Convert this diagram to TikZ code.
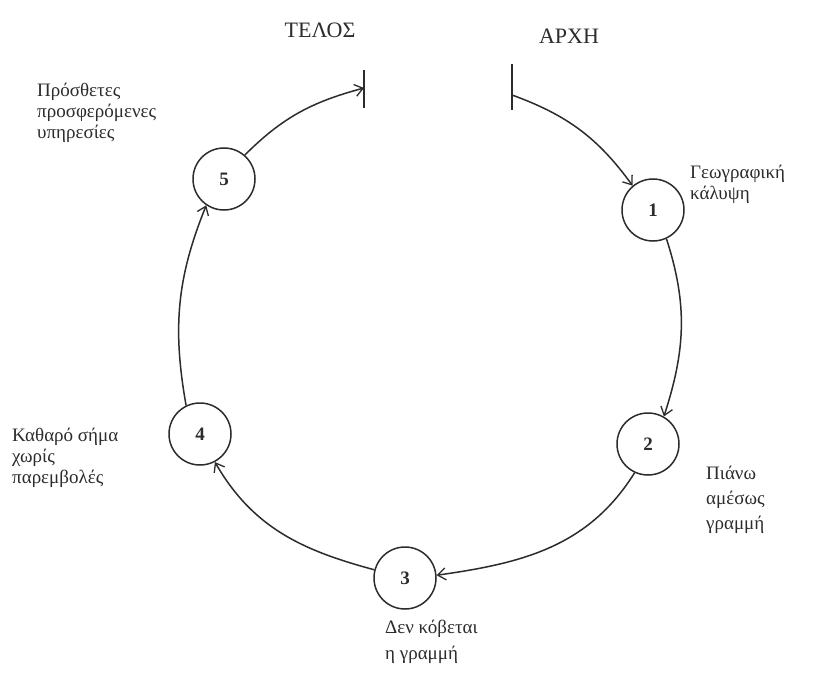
\documentclass[tikz,border=0pt]{standalone}
\usepackage{fontspec}
\setmainfont{Liberation Serif}
\usetikzlibrary{arrows.meta}
\definecolor{ink}{HTML}{2c2c2c}
\tikzset{
  stage/.style={circle, draw=ink, line width=1.5pt, minimum size=62pt, inner sep=0pt,
                font=\fontsize{19}{19}\selectfont\bfseries, text=ink},
  flow/.style={draw=ink, line width=1.5pt, -{Straight Barb[length=8pt,width=12pt,line width=1.3pt]}},
  tick/.style={draw=ink, line width=1.6pt},
  heading/.style={font=\fontsize{22}{22}\selectfont, text=ink},
  note/.style={anchor=north west, align=left, inner sep=0pt, text=ink}
}
\begin{document}
\begin{tikzpicture}[x=1pt,y=1pt]
  \useasboundingbox[fill=white] (0,0) rectangle (819,-682);

  % start / end markers
  \node[heading] (telostxt) at (320,-30) {ΤΕΛΟΣ};
  \node[heading] (arxhtxt) at (569,-36) {ΑΡΧΗ};
  \coordinate (telos) at (364,-88);
  \coordinate (arxh) at (512,-95);
  \draw[tick] (364,-70) -- (364,-108);
  \draw[tick] (512,-64) -- (512,-110);

  % the five stages
  \node[stage] (n1) at (653,-210) {1};
  \node[stage] (n2) at (648,-444) {2};
  \node[stage] (n3) at (405,-578) {3};
  \node[stage] (n4) at (200,-434) {4};
  \node[stage] (n5) at (224,-179) {5};

  % the cycle
  \draw[flow] (arxh) to[out=-20,in=126] (n1.130);
  \draw[flow] (n1.-65) to[out=-72,in=72] (n2.60);
  \draw[flow] (n2.-115) to[out=-122,in=8] (n3.5);
  \draw[flow] (n3.165) to[out=165,in=-60] (n4.-62);
  \draw[flow] (n4.116) to[out=100,in=-112] (n5.-124);
  \draw[flow] (n5.49) to[out=45,in=195] (telos);

  % descriptions
  \node[note, font=\fontsize{19}{21}\selectfont] (l5) at (37,-83)
    {Πρόσθετες\\προσφερόμενες\\υπηρεσίες};
  \node[note, font=\fontsize{19}{21}\selectfont] (l1) at (690,-165)
    {Γεωγραφική\\κάλυψη};
  \node[note, font=\fontsize{19}{25}\selectfont] (l2) at (706,-466)
    {Πιάνω\\αμέσως\\γραμμή};
  \node[note, font=\fontsize{19}{26}\selectfont] (l3) at (385,-620)
    {Δεν κόβεται\\η γραμμή};
  \node[note, font=\fontsize{19}{21}\selectfont] (l4) at (12,-428)
    {Καθαρό σήμα\\χωρίς\\παρεμβολές};
\end{tikzpicture}
\end{document}
